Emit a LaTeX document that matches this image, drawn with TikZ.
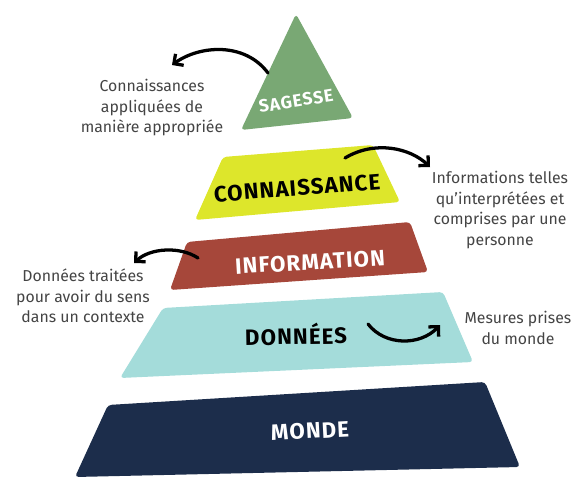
\documentclass[tikz,border=0pt]{standalone}
\usepackage{fontspec}
\setmainfont{Fira Sans}
\newfontfamily\layerfont[LetterSpace=5]{Fira Sans}
\usetikzlibrary{arrows.meta}
\definecolor{sage}{HTML}{79A874}
\definecolor{lime}{HTML}{DDE62B}
\definecolor{brick}{HTML}{A6473A}
\definecolor{aqua}{HTML}{A4DCDA}
\definecolor{navy}{HTML}{1C2D4B}
\definecolor{ink}{HTML}{444444}

\begin{document}
\begin{tikzpicture}[
  x=0.03cm, y=-0.03cm,
  layer/.style={rounded corners=3pt},
  title/.style={font=\fontsize{19}{22}\selectfont\layerfont\bfseries},
  note/.style={align=center, text=ink, font=\fontsize{13.5}{17.5}\selectfont},
  arrow/.style={-{Straight Barb[length=6pt,width=12pt]}, line width=2.8pt, line cap=round}
]
\useasboundingbox (0,0) rectangle (578,477);
% pyramid layers
\fill[layer, sage]  (296,14) -- (353,118) -- (241,130) -- cycle;
\fill[layer, lime]  (223,157) -- (373,145) -- (400,202) -- (195,220) -- cycle;
\fill[layer, brick] (187,242) -- (410,222) -- (428,272) -- (170,290) -- cycle;
\fill[layer, aqua]  (163,308) -- (443,292) -- (473,362) -- (120,378) -- cycle;
\fill[layer, navy]  (108,405) -- (485,382) -- (520,467) -- (75,477) -- cycle;
% layer names
\node[title, white, rotate=9, font=\fontsize{15}{18}\selectfont\layerfont\bfseries] (sag) at (296,101) {SAGESSE};
\node[title, black, rotate=4.5] (con) at (297,188) {CONNAISSANCE};
\node[title, white, rotate=3.5] (inf) at (310,262) {INFORMATION};
\node[title, black, rotate=1]   (don) at (296,334) {DONNÉES};
\node[title, white, rotate=3]   (mon) at (310,431) {MONDE};
% notes
\node[note] (n1) at (152,108) {Connaissances\\appliquées de\\manière appropriée};
\node[note] (n2) at (500,210) {Informations telles\\qu'interprétées et\\comprises par une\\personne};
\node[note] (n3) at (83,296)  {Données traitées\\pour avoir du sens\\dans un contexte};
\node[note] (n4) at (518,328) {Mesures prises\\du monde};
% arrow ends
\coordinate (s1) at (268,73);  \coordinate (e1) at (172,65);
\coordinate (s2) at (345,158); \coordinate (e2) at (430,167);
\coordinate (s3) at (198,258); \coordinate (e3) at (134,263);
\coordinate (s4) at (368,324); \coordinate (e4) at (440,325);
\draw[arrow] (s1) .. controls (245,42) and (200,45) .. (e1);
\draw[arrow] (s2) .. controls (375,140) and (410,148) .. (e2);
\draw[arrow] (s3) .. controls (180,246) and (150,248) .. (e3);
\draw[arrow] (s4) .. controls (385,346) and (420,346) .. (e4);
\end{tikzpicture}
\end{document}
